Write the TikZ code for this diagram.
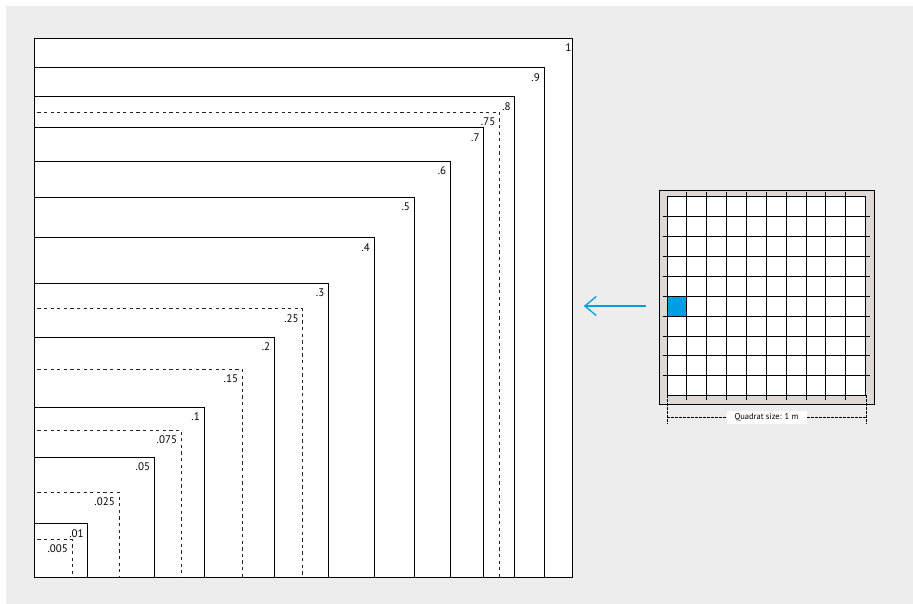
\documentclass[tikz,border=0pt]{standalone}
\usepackage{fontspec}
\setmainfont{PT Sans}
\usepackage{xcolor}
\usepackage{tikz}
\usetikzlibrary{arrows.meta,positioning}
\definecolor{bggray}{HTML}{EDEDED}
\definecolor{framegray}{HTML}{DDD9D7}
\definecolor{quadblue}{HTML}{009FE3}

\begin{document}
\begin{tikzpicture}[
x=1pt,y=1pt,
sq/.style={line width=0.9pt},
dsq/.style={line width=0.9pt,draw=black!85,dash pattern=on 3.3pt off 3.3pt,dash phase=3.3pt},
lab/.style={anchor=base east,inner sep=0pt,font=\fontsize{11}{13}\selectfont},
gridline/.style={line width=0.9pt},
dim/.style={line width=0.7pt,dash pattern=on 2.5pt off 1.5pt},
arr/.style={-{Straight Barb[length=11.5pt,width=19pt]},line width=1.3pt,draw=quadblue}
]
\useasboundingbox (0,0) rectangle (913,604);
\fill[bggray] (6,0) rectangle (913,598);

% nested squares, side ~ sqrt(area)
\node[draw,fill=white,line width=0.9pt,minimum width=537.5pt,minimum height=538.5pt,inner sep=0pt] (main) at (303.25,296.25) {};
\coordinate (O) at (main.south west);
\foreach \a/\sty [count=\i] in {.9/sq,.8/sq,.75/dsq,.7/sq,.6/sq,.5/sq,.4/sq,.3/sq,.25/dsq,.2/sq,.15/dsq,.1/sq,.075/dsq,.05/sq,.025/dsq,.01/sq,.005/dsq} {
  \pgfmathsetmacro\s{sqrt(\a)*537.5}
  \draw[\sty] ([yshift=\s pt]O) -- ++(\s,0) coordinate (c\i) -- ++(0,-\s);
  \node[lab] (l\i) at ([xshift=-4pt,yshift=-13.5pt]c\i) {\a};
}
\node[lab] (l0) at ([xshift=-1pt,yshift=-13.5pt]main.north east) {1};

% quadrat
\node[draw,fill=framegray,line width=0.9pt,minimum width=214.6pt,minimum height=214pt,inner sep=0pt] (quad) at (767,307) {};
\node[fill=white,minimum width=198.4pt,minimum height=198.4pt,inner sep=0pt] (plot) at (766.5,307.9) {};
\node[fill=quadblue,minimum size=19.84pt,inner sep=0pt,anchor=south west] (cell) at ([yshift=4*19.84pt]plot.south west) {};
\foreach \k in {1,...,9} {
  \draw[gridline] ([xshift=\k*19.84pt,yshift=-4.5pt]plot.south west) -- ([xshift=\k*19.84pt,yshift=4.5pt]plot.north west);
  \draw[gridline] ([xshift=-4.5pt,yshift=\k*19.84pt]plot.south west) -- ([xshift=4.5pt,yshift=\k*19.84pt]plot.south east);
}
\draw[gridline] (plot.south west) rectangle (plot.north east);

% size bar
\coordinate (dimL) at ([yshift=-22pt]plot.south west);
\coordinate (dimR) at ([yshift=-22pt]plot.south east);
\draw[dim] (dimL) -- (dimR);
\draw[dim] (plot.south west) -- ([yshift=-7pt]dimL);
\draw[dim] (plot.south east) -- ([yshift=-7pt]dimR);
\node[fill=white,minimum width=80pt,minimum height=13.5pt,inner sep=0pt,font=\fontsize{8.5}{10}\selectfont] (size) at (plot.south |- dimL) {Quadrat size: 1 m};

% arrow
\coordinate (arrtail) at ([xshift=-13pt]quad.west |- cell.center);
\coordinate (arrhead) at ([xshift=11.3pt]main.east |- cell.center);
\draw[arr] (arrtail) -- (arrhead);
\end{tikzpicture}
\end{document}
